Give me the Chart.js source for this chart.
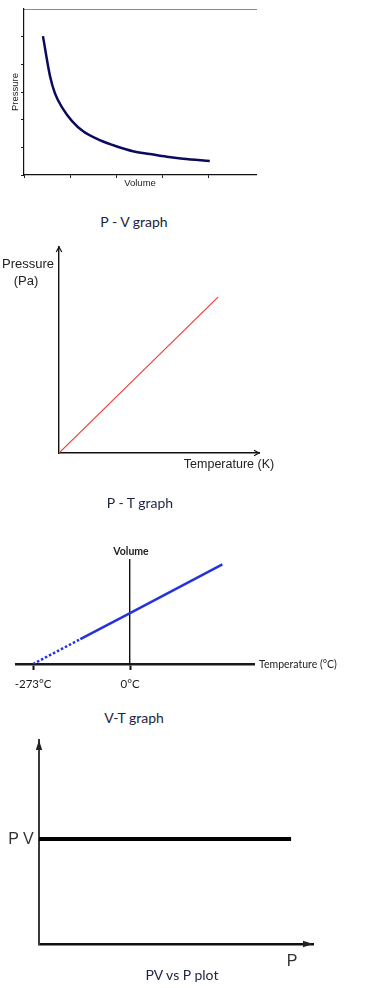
<!DOCTYPE html>
<html>
<head>
<meta charset="utf-8">
<script src="https://cdn.jsdelivr.net/npm/chart.js@4.4.1/dist/chart.umd.min.js"></script>
<style>
  html, body { margin: 0; padding: 0; background: #fff; }
  body { position: relative; width: 388px; height: 988px; overflow: hidden; }
  canvas { position: absolute; left: 0; }
  .lbl { position: absolute; transform: translate(-50%, -50%); white-space: nowrap; line-height: 1; }
  .cap { font-family: Lato, "Open Sans", sans-serif; font-size: 14px; color: #1b2340; }
  .arial { font-family: "Liberation Sans", Arial, sans-serif; color: #222; }
  .cal { font-family: Lato, sans-serif; font-size: 10.5px; color: #222; }
</style>
</head>
<body>
<canvas id="pv" width="388" height="200" style="top:0px"></canvas>
<canvas id="pt" width="388" height="240" style="top:230px"></canvas>
<canvas id="vt" width="388" height="160" style="top:540px"></canvas>
<canvas id="pvp" width="388" height="230" style="top:730px"></canvas>

<div class="lbl cap" style="left:134px;top:222px">P - V graph</div>

<div class="lbl arial" style="left:28px;top:263px;font-size:13px">Pressure</div>
<div class="lbl arial" style="left:26px;top:280px;font-size:13px">(Pa)</div>
<div class="lbl arial" style="left:229px;top:464px;font-size:12.5px">Temperature (K)</div>
<div class="lbl cap" style="left:140px;top:503px">P - T graph</div>

<div class="lbl cal" style="left:131px;top:551px;font-weight:bold">Volume</div>
<div class="lbl cal" style="left:298px;top:664px">Temperature (°C)</div>
<div class="lbl cap" style="left:134px;top:718px">V-T graph</div>

<div class="lbl arial" style="left:21px;top:839px;font-size:16px;color:#333">P V</div>
<div class="lbl arial" style="left:292px;top:961px;font-size:16px;color:#333">P</div>
<div class="lbl cap" style="left:182px;top:975px">PV vs P plot</div>

<script>
// P - V graph (arbitrary units)
const pvVolume   = [0.41, 0.56, 0.67, 0.84, 1.04, 1.28, 1.64, 2.01, 2.36, 2.72, 3.09, 3.44, 4.02];
const pvPressure = [5.02, 3.60, 2.95, 2.40, 1.95, 1.58, 1.26, 1.03, 0.86, 0.76, 0.66, 0.59, 0.51];
const pvXTicks = [0, 1, 2, 3, 4];
const pvYTicks = [0, 1, 2, 3, 4, 5];

// P - T graph (straight line through the origin)
const ptTemperature = [0, 7.95];
const ptPressure    = [0, 7.57];

// V-T graph (temperature in °C, volume in arbitrary units)
const vtTemperature = [-273, -140, 0, 260];
const vtVolume      = [0, 133, 273, 533];
const vtTicks = [-273, 0];

// PV vs P plot (constant product)
const pvpPressure = [0, 9.2];
const pvpProduct  = [5.15, 5.15];

const toPoints = (xs, ys) => xs.map((x, i) => ({ x, y: ys[i] }));
const fixSize = (size) => (scale) => {
  if (scale.isHorizontal()) scale.height = size; else scale.width = size;
};

// arrow heads at the end of the axes
const axisArrows = {
  id: 'axisArrows',
  afterDraw(chart, args, opts) {
    if (!opts.style) return;
    const { ctx, chartArea: a } = chart;
    const len = opts.length, w = opts.halfWidth;
    ctx.save();
    ctx.strokeStyle = opts.color;
    ctx.fillStyle = opts.color;
    ctx.lineWidth = opts.lineWidth;
    const heads = [
      [a.left, a.top, 0, 1],     // y axis, pointing up
      [a.right, a.bottom, -1, 0] // x axis, pointing right
    ];
    heads.forEach(([tx, ty, dx, dy]) => {
      const bx = tx + dx * len, by = ty + dy * len;
      const px = dy * w, py = -dx * w;
      ctx.beginPath();
      ctx.moveTo(bx + px, by + py);
      ctx.lineTo(tx, ty);
      ctx.lineTo(bx - px, by - py);
      if (opts.style === 'filled') { ctx.closePath(); ctx.fill(); } else ctx.stroke();
    });
    ctx.restore();
  }
};

const base = {
  responsive: false,
  animation: false,
  events: [],
  plugins: { legend: { display: false }, tooltip: { enabled: false } },
  elements: { point: { radius: 0 } },
};

// ---- P - V graph ----
new Chart(document.getElementById('pv'), {
  type: 'line',
  data: {
    datasets: [{
      data: toPoints(pvVolume, pvPressure),
      borderColor: '#0b0b5e',
      borderWidth: 2.5,
      cubicInterpolationMode: 'monotone',
    }],
  },
  options: {
    ...base,
    layout: { padding: { left: 0, top: 9, right: 132, bottom: 5 } },
    scales: {
      x: {
        type: 'linear', min: 0, max: 5.02,
        afterBuildTicks: (s) => { s.ticks = pvXTicks.map(v => ({ value: v })); },
        afterFit: fixSize(20),
        ticks: { display: false },
        grid: { display: true, drawOnChartArea: false, tickLength: 3, tickColor: '#222' },
        border: { display: true, color: '#111', width: 1.2 },
        title: {
          display: true, text: 'Volume', color: '#222',
          font: { family: 'Liberation Sans', size: 9.5 },
          padding: { top: 0, bottom: 6.3 },
        },
      },
      x2: {
        type: 'linear', position: 'top', min: 0, max: 5.02,
        afterFit: fixSize(0),
        ticks: { display: false },
        grid: { display: false },
        border: { display: true, color: '#8a8a8a', width: 1 },
      },
      y: {
        type: 'linear', min: 0, max: 6,
        afterBuildTicks: (s) => { s.ticks = pvYTicks.map(v => ({ value: v })); },
        afterFit: fixSize(24),
        ticks: { display: false },
        grid: { display: true, drawOnChartArea: false, tickLength: 3, tickColor: '#222' },
        border: { display: true, color: '#111', width: 1.2 },
        title: {
          display: true, text: 'Pressure', color: '#222',
          font: { family: 'Liberation Sans', size: 9.5 },
          padding: { top: 9.8, bottom: 0 },
        },
      },
    },
  },
});

// ---- P - T graph ----
const plainAxis = (min, max, color, width) => ({
  type: 'linear', min, max,
  afterFit: fixSize(0),
  ticks: { display: false },
  grid: { display: false },
  border: { display: true, color, width },
});

new Chart(document.getElementById('pt'), {
  type: 'line',
  data: {
    datasets: [{
      data: toPoints(ptTemperature, ptPressure),
      borderColor: '#f03c3c',
      borderWidth: 1.2,
    }],
  },
  options: {
    ...base,
    layout: { padding: { left: 59, top: 17, right: 129, bottom: 17 } },
    scales: { x: plainAxis(0, 10, '#111', 1.4), y: plainAxis(0, 10, '#111', 1.4) },
    plugins: {
      ...base.plugins,
      axisArrows: { style: 'open', length: 5, halfWidth: 2.8, color: '#111', lineWidth: 1.2 },
    },
  },
  plugins: [axisArrows],
});

// ---- V-T graph ----
new Chart(document.getElementById('vt'), {
  type: 'line',
  data: {
    datasets: [{
      data: toPoints(vtTemperature, vtVolume),
      borderColor: '#2433dd',
      borderWidth: 2.5,
      segment: { borderDash: (ctx) => (ctx.p0DataIndex === 0 ? [2.5, 2] : undefined) },
    }],
  },
  options: {
    ...base,
    layout: { padding: { left: 16, top: 20, right: 134, bottom: 0 } },
    scales: {
      x: {
        type: 'linear', min: -321, max: 349,
        afterBuildTicks: (s) => { s.ticks = vtTicks.map(v => ({ value: v })); },
        afterFit: fixSize(36),
        ticks: {
          color: '#1a1a1a', padding: 7, maxRotation: 0, autoSkip: false,
          font: { family: 'Lato', size: 11.5 },
          callback: (v) => v + '°C',
        },
        grid: { display: true, drawOnChartArea: false, tickLength: 6, tickWidth: 2, tickColor: '#111' },
        border: { display: true, color: '#1a1a1a', width: 2.5 },
      },
      y: {
        type: 'linear', min: 0, max: 557,
        position: { x: 0 },
        ticks: { display: false },
        grid: { display: false },
        border: { display: true, color: '#111', width: 1.4 },
      },
    },
  },
});

// ---- PV vs P plot ----
new Chart(document.getElementById('pvp'), {
  type: 'line',
  data: {
    datasets: [{
      data: toPoints(pvpPressure, pvpProduct),
      borderColor: '#000',
      borderWidth: 4,
    }],
  },
  options: {
    ...base,
    layout: { padding: { left: 39, top: 10, right: 75, bottom: 16 } },
    scales: { x: plainAxis(0, 10, '#111', 2.4), y: plainAxis(0, 10, '#3a3a3a', 2) },
    plugins: {
      ...base.plugins,
      axisArrows: { style: 'filled', length: 10, halfWidth: 3.2, color: '#222', lineWidth: 1 },
    },
  },
  plugins: [axisArrows],
});
</script>
</body>
</html>
